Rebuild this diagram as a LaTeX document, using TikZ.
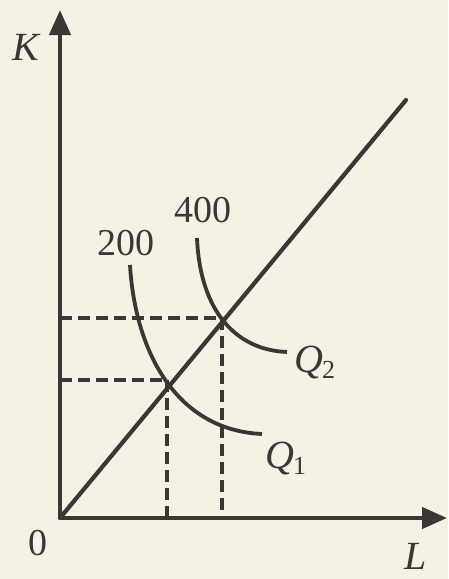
\documentclass[tikz,border=0pt]{standalone}
\usepackage{fontspec}
\setmainfont{Liberation Serif}
\usetikzlibrary{arrows.meta}
\definecolor{paper}{HTML}{F6F1E5}
\definecolor{ink}{HTML}{3A3835}
\begin{document}
\begin{tikzpicture}[x=1pt,y=-1pt,
  axis/.style={draw=ink,line width=4.4pt,-{Triangle[length=25pt,width=21pt]}},
  ray/.style={draw=ink,line width=4.2pt},
  curve/.style={draw=ink,line width=3.8pt},
  guide/.style={draw=ink,line width=3.3pt,dash pattern=on 12pt off 6pt},
  lbl/.style={text=ink,inner sep=0pt,font=\fontsize{38}{40}\selectfont},
  ilbl/.style={lbl,font=\fontsize{40}{42}\selectfont\itshape}]
\fill[paper] (0,0) rectangle (448,579);
\useasboundingbox (0,0) rectangle (448,579);
\coordinate (O) at (60,518);
\coordinate (Ktip) at (60,10);
\coordinate (Ltip) at (447,518);
\coordinate (Rend) at (406,100);
\coordinate (A) at (167,380);
\coordinate (B) at (222,318);
\coordinate (Ay) at (60,380);
\coordinate (By) at (60,318);
\coordinate (Ax) at (167,518);
\coordinate (Bx) at (222,518);
% guides
\draw[guide] (Ay) -- (A);
\draw[guide] (By) -- (B);
\draw[guide] (A) -- (Ax);
\draw[guide] (B) -- (Bx);
% axes
\draw[axis] (O) -- (Ktip);
\draw[axis] (O) -- (Ltip);
% ray
\draw[ray,line cap=round] (O) -- (Rend);
% isoquants
\coordinate (Q1s) at (130,265);
\coordinate (Q1e) at (262,434);
\coordinate (Q2s) at (197,238);
\coordinate (Q2e) at (287,352);
\draw[curve] (Q1s) .. controls (135,350) and (175,430) .. (Q1e);
\draw[curve] (Q2s) .. controls (200,310) and (235,350) .. (Q2e);
% labels
\node[ilbl] (K) at (26,47) {K};
\node[lbl] (zero) at (38,543) {0};
\node[ilbl] (L) at (416,556) {L};
\node[lbl] (n200) at (126,243) {200};
\node[lbl] (n400) at (203,210) {400};
\node[ilbl,anchor=west] (Q1) at (265,458) {Q\kern-1pt\raisebox{-6pt}{\fontsize{26}{28}\selectfont\upshape 1}};
\node[ilbl,anchor=west] (Q2) at (294,362) {Q\kern-1pt\raisebox{-6pt}{\fontsize{26}{28}\selectfont\upshape 2}};
\end{tikzpicture}
\end{document}
